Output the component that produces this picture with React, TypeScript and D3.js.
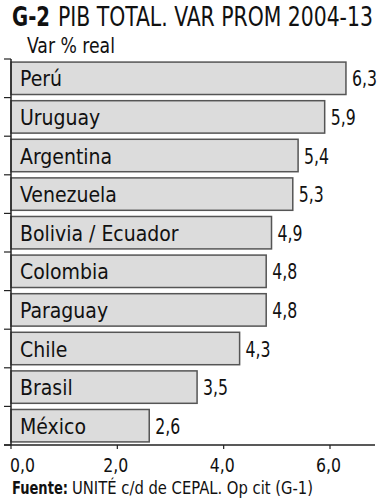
import React from "react";
import * as d3 from "d3";

const categories = ["Perú", "Uruguay", "Argentina", "Venezuela", "Bolivia / Ecuador", "Colombia", "Paraguay", "Chile", "Brasil", "México"];
const values = [6.3, 5.9, 5.4, 5.3, 4.9, 4.8, 4.8, 4.3, 3.5, 2.6];
const valueLabels = ["6,3", "5,9", "5,4", "5,3", "4,9", "4,8", "4,8", "4,3", "3,5", "2,6"];
const xTicks = [0, 2, 4, 6];
const xTickLabels = ["0,0", "2,0", "4,0", "6,0"];

const FONT = "'DejaVu Sans Condensed', 'DejaVu Sans', sans-serif";

export default function App() {
  const W = 384, H = 500;
  const x0 = 11, yTop = 59, yBottom = 445;
  const x = d3.scaleLinear().domain([0, 6]).range([x0, 330]);
  const y = d3.scaleBand<string>().domain(categories).range([yTop, yBottom]).paddingInner(0.16).paddingOuter(0.08);
  const step = y.step();
  const common = { fontFamily: FONT, fontStretch: "condensed", fill: "#111" } as any;
  return (
    <svg width={W} height={H} style={{ position: "absolute", left: 0, top: 0, background: "#fff" }}>
      <text x={12} y={26} {...common} fontSize={26} fontWeight="bold" textLength={38} lengthAdjust="spacingAndGlyphs">G-2</text>
      <g transform="translate(58,26) scale(0.872,1)">
        <text x={0} y={0} {...common} fontSize={26}>PIB TOTAL. VAR PROM 2004-13</text>
      </g>
      <text x={27} y={53} {...common} fontSize={21} textLength={88} lengthAdjust="spacingAndGlyphs">Var % real</text>
      {categories.map((c, i) => {
        const yy = y(c)!;
        return (
          <g key={c}>
            <rect x={x(0)} y={yy} width={x(values[i]) - x(0)} height={y.bandwidth()} fill="#dcdcdc" stroke="#555" strokeWidth={1.5} />
            <text x={20} y={yy + y.bandwidth() / 2 + 8} {...common} fontSize={21}>{c}</text>
            <text x={x(values[i]) + 6} y={yy + y.bandwidth() / 2 + 8} {...common} fontSize={21} textLength={25} lengthAdjust="spacingAndGlyphs">{valueLabels[i]}</text>
          </g>
        );
      })}
      {d3.range(categories.length + 1).map((i) => (
        <line key={i} x1={4} x2={x0} y1={yTop + i * step} y2={yTop + i * step} stroke="#222" strokeWidth={1.2} />
      ))}
      <line x1={x0} x2={x0} y1={yTop} y2={yBottom} stroke="#222" strokeWidth={1.5} />
      <line x1={4} x2={375} y1={yBottom} y2={yBottom} stroke="#222" strokeWidth={1.5} />
      {xTicks.map((t, i) => (
        <g key={t}>
          <line x1={x(t)} x2={x(t)} y1={yBottom} y2={yBottom + 4} stroke="#222" strokeWidth={1.2} />
          <text x={i === 0 ? x(t) - 1 : x(t) - 1.5} y={472} textAnchor={i === 0 ? "start" : "middle"} {...common} fontSize={20} textLength={25} lengthAdjust="spacingAndGlyphs">{xTickLabels[i]}</text>
        </g>
      ))}
      <text x={12} y={494} {...common} fontSize={17} fontWeight="bold" textLength={56} lengthAdjust="spacingAndGlyphs">Fuente:</text>
      <text x={72} y={494} {...common} fontSize={17} textLength={241} lengthAdjust="spacingAndGlyphs">UNITÉ c/d de CEPAL. Op cit (G-1)</text>
    </svg>
  );
}
